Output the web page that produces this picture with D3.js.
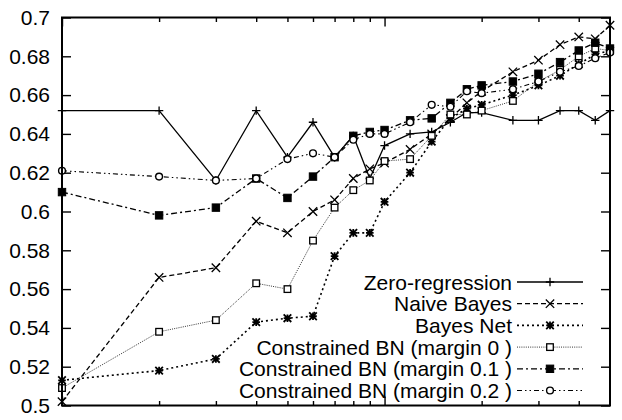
<!DOCTYPE html>
<html>
<head>
<meta charset="utf-8">
<script src="https://cdn.jsdelivr.net/npm/d3@7"></script>
<style>
  html, body { margin: 0; padding: 0; background: #fff; }
  svg { display: block; }
  text { font-family: "Liberation Sans", Arial, sans-serif; fill: #000; }
</style>
</head>
<body>
<svg id="chart" width="622" height="420"></svg>
<script>
// ---- data ----
const xValues = [1, 2, 3, 4, 5, 6, 7, 8, 9, 10, 12, 14, 16, 18, 20, 25, 30, 35, 40, 45, 50];
const zeroRegression = [0.652, 0.652, 0.616, 0.652, 0.628, 0.646, 0.628, 0.639, 0.617, 0.634, 0.640, 0.641, 0.646, 0.651, 0.651, 0.647, 0.647, 0.652, 0.652, 0.647, 0.652];
const naiveBayes = [0.502, 0.566, 0.571, 0.595, 0.589, 0.600, 0.606, 0.617, 0.622, 0.625, 0.632, 0.640, 0.648, 0.656, 0.662, 0.672, 0.678, 0.686, 0.690, 0.689, 0.696];
const bayesNet = [0.513, 0.518, 0.524, 0.543, 0.545, 0.546, 0.577, 0.589, 0.589, 0.605, 0.620, 0.636, 0.648, 0.653, 0.655, 0.660, 0.665, 0.670, 0.676, 0.681, 0.683];
const constrained0 = [0.509, 0.538, 0.544, 0.563, 0.560, 0.585, 0.602, 0.611, 0.616, 0.626, 0.627, 0.639, 0.650, 0.650, 0.652, 0.657, 0.667, 0.673, 0.680, 0.684, 0.683];
const constrained01 = [0.610, 0.598, 0.602, 0.617, 0.607, 0.618, 0.628, 0.639, 0.641, 0.642, 0.647, 0.648, 0.656, 0.663, 0.665, 0.667, 0.671, 0.677, 0.683, 0.687, 0.684];
const constrained02 = [0.621, 0.618, 0.616, 0.617, 0.627, 0.630, 0.628, 0.637, 0.640, 0.640, 0.646, 0.655, 0.654, 0.662, 0.661, 0.663, 0.667, 0.672, 0.675, 0.679, 0.682];
const seriesNames = ["Zero-regression", "Naive Bayes", "Bayes Net", "Constrained BN (margin 0 )", "Constrained BN (margin 0.1 )", "Constrained BN (margin 0.2 )"];
const yTicks = [0.5, 0.52, 0.54, 0.56, 0.58, 0.6, 0.62, 0.64, 0.66, 0.68, 0.7];
const yTickLabels = ["0.5", "0.52", "0.54", "0.56", "0.58", "0.6", "0.62", "0.64", "0.66", "0.68", "0.7"];
const xMajorTicks = [1, 10];
const xMinorTicks = [2, 3, 4, 5, 6, 7, 8, 9, 20, 30, 40];

// ---- layout ----
const L = 62, R = 610, T = 17.5, B = 405.5;
const svg = d3.select("#chart");
const x = d3.scaleLog().domain([1, 50]).range([L, R]);
const y = d3.scaleLinear().domain([0.5, 0.7]).range([B, T]);

const styles = [
  { dash: null, width: 1.3, marker: "plus" },
  { dash: "5,3", width: 1.3, marker: "cross" },
  { dash: "2,3", width: 1.6, marker: "star" },
  { dash: "1,1.2", width: 0.8, marker: "square" },
  { dash: "6,3,2,3", width: 1.3, marker: "fsquare" },
  { dash: "5,3,1.5,3,1.5,3", width: 1.1, marker: "circle" }
];
const allSeries = [zeroRegression, naiveBayes, bayesNet, constrained0, constrained01, constrained02];

function drawMarker(g, type, cx, cy) {
  const s = 4.2;
  if (type === "plus") {
    g.append("path").attr("d", `M${cx - s},${cy}H${cx + s}M${cx},${cy - s}V${cy + s}`)
      .attr("stroke", "#000").attr("stroke-width", 1.3).attr("fill", "none");
  } else if (type === "cross") {
    g.append("path").attr("d", `M${cx - s},${cy - s}L${cx + s},${cy + s}M${cx - s},${cy + s}L${cx + s},${cy - s}`)
      .attr("stroke", "#000").attr("stroke-width", 1.3).attr("fill", "none");
  } else if (type === "star") {
    const t = 3.8;
    g.append("path").attr("d", `M${cx - t},${cy}H${cx + t}M${cx},${cy - t}V${cy + t}M${cx - t},${cy - t}L${cx + t},${cy + t}M${cx - t},${cy + t}L${cx + t},${cy - t}`)
      .attr("stroke", "#000").attr("stroke-width", 1.8).attr("fill", "none");
  } else if (type === "square") {
    g.append("rect").attr("x", cx - 3.3).attr("y", cy - 3.3).attr("width", 6.6).attr("height", 6.6)
      .attr("fill", "#fff").attr("stroke", "#000").attr("stroke-width", 1.3);
  } else if (type === "fsquare") {
    g.append("rect").attr("x", cx - 3.7).attr("y", cy - 3.7).attr("width", 7.4).attr("height", 7.4)
      .attr("fill", "#000").attr("stroke", "#000").attr("stroke-width", 1);
  } else if (type === "circle") {
    g.append("circle").attr("cx", cx).attr("cy", cy).attr("r", 3.4)
      .attr("fill", "#fff").attr("stroke", "#000").attr("stroke-width", 1.4);
  }
}

// ---- axes (inward ticks on all four sides) ----
const fmt = d => yTickLabels[yTicks.indexOf(d)] || "";
const axL = svg.append("g").attr("transform", `translate(${L},0)`)
  .call(d3.axisLeft(y).tickValues(yTicks).tickFormat(fmt).tickSizeInner(-9).tickSizeOuter(0).tickPadding(12));
const axR = svg.append("g").attr("transform", `translate(${R},0)`)
  .call(d3.axisRight(y).tickValues(yTicks).tickFormat("").tickSizeInner(-9).tickSizeOuter(0));
[[xMajorTicks, 9], [xMinorTicks, 4.5]].forEach(([vals, len]) => {
  svg.append("g").attr("transform", `translate(0,${B})`)
    .call(d3.axisBottom(x).tickValues(vals).tickFormat("").tickSizeInner(-len).tickSizeOuter(0));
  svg.append("g").attr("transform", `translate(0,${T})`)
    .call(d3.axisTop(x).tickValues(vals).tickFormat("").tickSizeInner(-len).tickSizeOuter(0));
});
svg.selectAll(".domain").remove();
svg.selectAll(".tick line").attr("stroke", "#000").attr("stroke-width", 1.4);
axL.selectAll("text").style("font-size", "21px").style("font-family", "Liberation Sans, Arial, sans-serif").attr("fill", "#000");

// ---- series ----
const line = d3.line().x((d, i) => x(xValues[i])).y(d => y(d));
allSeries.forEach((vals, si) => {
  const st = styles[si];
  const g = svg.append("g");
  g.append("path").datum(vals).attr("d", line)
    .attr("fill", "none").attr("stroke", "#000").attr("stroke-width", st.width)
    .attr("stroke-dasharray", st.dash);
  vals.forEach((v, i) => drawMarker(g, st.marker, x(xValues[i]), y(v)));
});

// ---- frame ----
svg.append("rect").attr("x", L).attr("y", T).attr("width", R - L).attr("height", B - T)
  .attr("fill", "none").attr("stroke", "#000").attr("stroke-width", 2);

// ---- legend ----
const legTextRight = 512, legX0 = 517, legX1 = 583, legY0 = 282, legStep = 21.7;
seriesNames.forEach((name, i) => {
  const st = styles[i];
  const cy = legY0 + i * legStep;
  const g = svg.append("g");
  g.append("text").attr("x", legTextRight).attr("y", cy + 7.5).attr("text-anchor", "end")
    .style("font-size", "21px").text(name);
  g.append("line").attr("x1", legX0).attr("x2", legX1).attr("y1", cy).attr("y2", cy)
    .attr("stroke", "#000").attr("stroke-width", st.width).attr("stroke-dasharray", st.dash);
  drawMarker(g, st.marker, (legX0 + legX1) / 2, cy);
});
</script>
</body>
</html>
